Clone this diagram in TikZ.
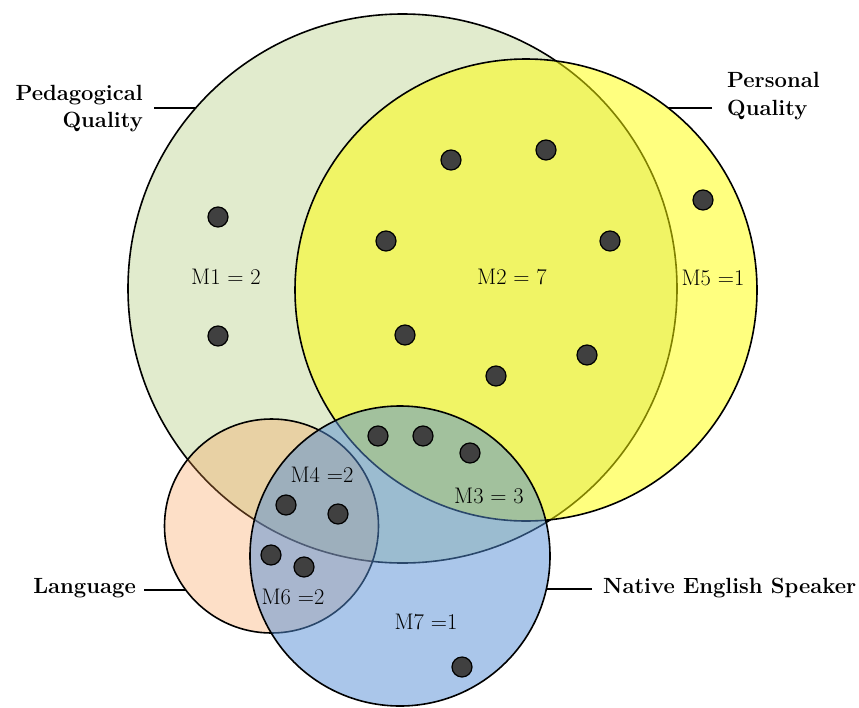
\documentclass[tikz,border=0pt]{standalone}
\usepackage{fontspec}
\usetikzlibrary{calc}
\definecolor{gfill}{HTML}{C4D79B}
\definecolor{yfill}{HTML}{FFFF00}
\definecolor{ofill}{HTML}{F79646}
\definecolor{bfill}{HTML}{558ED5}
\definecolor{dotc}{RGB}{64,64,64}
\begin{document}
\begin{tikzpicture}[x=1pt,y=-1pt,
  venn/.style={circle,draw=black,line width=1.6pt,inner sep=0pt,outer sep=0pt},
  dot/.style={circle,draw=black,line width=1.2pt,fill=dotc,inner sep=0pt,minimum size=20pt},
  mlab/.style={font=\fontsize{22.5}{27}\selectfont,inner sep=0pt,anchor=base},
  setlab/.style={font=\fontsize{22}{27}\selectfont\bfseries,inner sep=0pt},
  leader/.style={line width=1.6pt}]
\useasboundingbox (0,0) rectangle (859,707);
% circles
\node[venn,minimum size=549pt,fill=gfill,fill opacity=0.5] (pq) at (402.5,288.5) {};
\node[venn,minimum size=462pt,fill=yfill,fill opacity=0.5] (per) at (526,290) {};
\node[venn,minimum size=214pt,fill=ofill,fill opacity=0.3] (lang) at (271.5,526) {};
\node[venn,minimum size=300pt,fill=bfill,fill opacity=0.5] (nes) at (400,556) {};
% dots
\node[dot] (d1) at (218,217) {};
\node[dot] (d2) at (218,336) {};
\node[dot] (d3) at (451,160) {};
\node[dot] (d4) at (546,150) {};
\node[dot] (d5) at (386,241) {};
\node[dot] (d6) at (610,241) {};
\node[dot] (d7) at (405,335) {};
\node[dot] (d8) at (587,355) {};
\node[dot] (d9) at (496,376) {};
\node[dot] (d10) at (703,200) {};
\node[dot] (d11) at (378,436) {};
\node[dot] (d12) at (423,436) {};
\node[dot] (d13) at (470,453) {};
\node[dot] (d14) at (286,505) {};
\node[dot] (d15) at (338,514) {};
\node[dot] (d16) at (271,555) {};
\node[dot] (d17) at (304,567) {};
\node[dot] (d18) at (462,667) {};
% region labels
\node[mlab] (m1) at (226,284) {M1 = 2};
\node[mlab] (m2) at (512,284) {M2 = 7};
\node[mlab] (m5) at (713,285) {M5 =1};
\node[mlab] (m3) at (489,503) {M3 = 3};
\node[mlab] (m4) at (322,482) {M4 =2};
\node[mlab] (m6) at (293,604) {M6 =2};
\node[mlab] (m7) at (426,629) {M7 =1};
% set labels
\node[setlab,anchor=base east] (pql1) at (143,100) {Pedagogical};
\node[setlab,anchor=base east] (pql2) at (143,127) {Quality};
\node[setlab,anchor=base west] (perl1) at (727,87) {Personal};
\node[setlab,anchor=base west] (perl2) at (727,115) {Quality};
\node[setlab,anchor=base east] (langl) at (136,593) {Language};
\node[setlab,anchor=base west] (nesl) at (603,593) {Native English Speaker};
% leader end points on the circles
\coordinate (pqend) at ($(pq.center)+(-206.8,-180.5)$);
\coordinate (perend) at ($(per.center)+(142,-182)$);
\coordinate (langend) at ($(lang.center)+(-85.5,64)$);
\coordinate (nesend) at ($(nes.center)+(146.3,33)$);
\coordinate (pqstart) at ([xshift=11pt]pql1.east);
\coordinate (perstart) at ([xshift=-15pt]perl2.west);
\coordinate (langstart) at ([xshift=8pt]langl.east);
\coordinate (nesstart) at ([xshift=-11pt]nesl.west);
% leader lines
\draw[leader] (pqend -| pqstart) -- (pqend);
\draw[leader] (perend -| perstart) -- (perend);
\draw[leader] (langend -| langstart) -- (langend);
\draw[leader] (nesend -| nesstart) -- (nesend);
\end{tikzpicture}
\end{document}
